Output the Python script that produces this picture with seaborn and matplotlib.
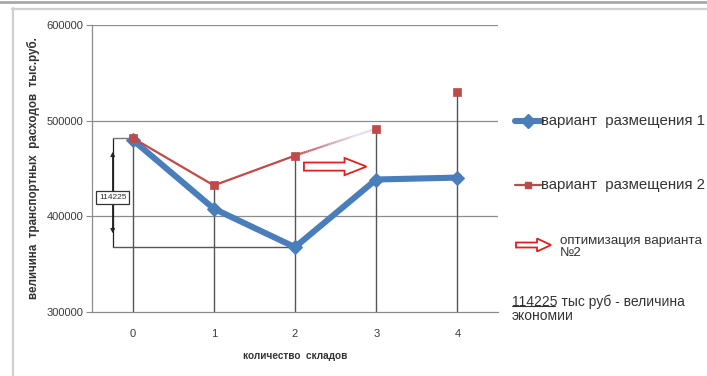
import numpy as np
import matplotlib
matplotlib.use("Agg")
import matplotlib.pyplot as plt
import matplotlib.patches as mpatches
from matplotlib.lines import Line2D
from matplotlib.collections import LineCollection
import seaborn as sns

# number of warehouses and transport costs (thousand rubles) for two placement variants
warehouses = [0, 1, 2, 3, 4]
variant1 = [480000, 408000, 367775, 438500, 440500]
variant2 = [482000, 432300, 463500, 491700, 530200]
y_ticks = [300000, 400000, 500000, 600000]
savings = variant2[0] - variant1[2]  # 114225

BLUE = "#4a7ebb"
RED = "#be4b48"
GRID = "#8c8c8c"

sns.set_theme(style="white")
plt.rcParams["font.family"] = ["Liberation Sans", "DejaVu Sans"]

fig = plt.figure(figsize=(7.07, 3.76), dpi=100)
fig.patch.set_facecolor("white")
ax = fig.add_axes([92 / 707, 1 - 312 / 376, (498 - 92) / 707, (312 - 25) / 376])
ax.set_facecolor("white")

ax.set_xlim(-0.5, 4.5)
ax.set_ylim(300000, 600000)

# horizontal grid
for yv in y_ticks[1:]:
    ax.axhline(yv, color=GRID, lw=0.9, zorder=0.5)

# drop lines from the highest point of each category to the axis
tops = np.maximum(variant1, variant2)
ax.vlines(warehouses, y_ticks[0], tops, color="#555555", lw=1.0, zorder=1)

# variant 1
sns.lineplot(x=warehouses, y=variant1, ax=ax, color=BLUE, lw=4.4, marker="D",
             markersize=7, markeredgecolor=BLUE, zorder=3)

# variant 2: solid up to 2 warehouses, fading segment to 3, lone point at 4
sns.lineplot(x=warehouses[:3], y=variant2[:3], ax=ax, color=RED, lw=1.6, zorder=4)
t = np.linspace(0, 1, 40)
gx = warehouses[2] + t * (warehouses[3] - warehouses[2])
gy = variant2[2] + t * (variant2[3] - variant2[2])
segs = np.stack([np.column_stack([gx[:-1], gy[:-1]]), np.column_stack([gx[1:], gy[1:]])], axis=1)
c0 = np.array(matplotlib.colors.to_rgb(RED))
c1 = np.array(matplotlib.colors.to_rgb("#e2deee"))
cols = [tuple(c0 + (c1 - c0) * min(1, v * 1.4)) for v in t[:-1]]
ax.add_collection(LineCollection(segs, colors=cols, lw=1.6, zorder=4))
sns.scatterplot(x=warehouses, y=variant2, ax=ax, marker="s", s=28, color=RED,
                edgecolor=RED, linewidth=0.5, zorder=5)

# savings dimension line
dim_x = -0.245
ax.annotate("", xy=(dim_x, variant1[2]), xytext=(dim_x, variant2[0]),
            arrowprops=dict(arrowstyle="<|-|>", color="#222222", lw=0.9,
                            mutation_scale=6, fill=False, shrinkA=10, shrinkB=10),
            zorder=2)
ax.plot([dim_x, dim_x], [variant2[0], variant1[2]], color="#222222", lw=0.9, zorder=2)
ax.plot([dim_x, -0.07], [variant2[0], variant2[0]], color="#777777", lw=1.0, zorder=2)
ax.plot([dim_x, warehouses[2] - 0.07], [variant1[2], variant1[2]], color="#555555", lw=1.0, zorder=2)
ax.text(dim_x, (variant2[0] + variant1[2]) / 2 - 5000, f"{savings}", ha="center", va="center",
        fontsize=6, color="#333333", zorder=6,
        bbox=dict(boxstyle="square,pad=0.35", fc="white", ec="#333333", lw=0.9))

# optimisation arrow (hollow)
arr = mpatches.FancyArrow(2.11, 452000, 0.5, 0, width=8500, head_width=18000,
                          head_length=0.27, length_includes_head=False,
                          fc="white", ec="#e02020", lw=1.3, zorder=6)
ax.add_patch(arr)

# axes styling
ax.set_xticks(warehouses)
ax.set_xticklabels([str(w) for w in warehouses])
ax.set_yticks(y_ticks)
ax.set_yticklabels([str(v) for v in y_ticks])
ax.tick_params(axis="y", length=4, width=0.8, color=GRID, labelsize=8,
               labelcolor="#3a3a3a", pad=2, left=True)
ax.tick_params(axis="x", length=0, labelsize=8, labelcolor="#3a3a3a", pad=12)
for side in ("top", "right"):
    ax.spines[side].set_visible(False)
ax.spines["left"].set_color(GRID)
ax.spines["left"].set_linewidth(0.9)
ax.spines["bottom"].set_color(GRID)
ax.spines["bottom"].set_linewidth(0.9)
ax.set_xlabel("количество  складов", fontsize=7.2, fontweight="bold", color="#333333", labelpad=9)
ax.set_ylabel("величина  транспортных  расходов  тыс.руб.", fontsize=8.4, fontweight="bold",
              color="#333333", labelpad=5)

# overlay in pixel coordinates for frame and legend
ov = fig.add_axes([0, 0, 1, 1], facecolor="none")
ov.set_xlim(0, 707)
ov.set_ylim(376, 0)
ov.axis("off")
ov.plot([0, 707], [1.5, 1.5], color="#a8a8a8", lw=2.0)
ov.plot([12, 707], [8.5, 8.5], color="#cfcfcf", lw=1.6)
ov.plot([12.5, 12.5], [8, 376], color="#cfcfcf", lw=1.6)

ov.add_line(Line2D([515, 528, 541], [121, 121, 121], color=BLUE, lw=4.4, marker="D",
                   markersize=7, markevery=[1], markeredgecolor=BLUE))
ov.text(541, 121, "вариант  размещения 1", fontsize=10.8, color="#333333", va="center", ha="left")

ov.add_line(Line2D([515, 528, 541], [185, 185, 185], color=RED, lw=1.6, marker="s",
                   markersize=5, markevery=[1], markeredgecolor=RED))
ov.text(541, 185, "вариант  размещения 2", fontsize=10.8, color="#333333", va="center", ha="left")

ov.add_patch(mpatches.FancyArrow(516, 245, 21, 0, width=5, head_width=13, head_length=14,
                                 fc="white", ec="#e02020", lw=1.3))
ov.text(560, 247, "оптимизация варианта\n№2", fontsize=9.6, color="#333333",
        va="center", ha="left", linespacing=1.0)

ov.text(512, 309, "114225 тыс руб - величина\nэкономии", fontsize=10, color="#333333",
        va="center", ha="left", linespacing=1.05)
ov.plot([512, 555], [306, 306], color="#333333", lw=0.8)

fig.savefig("out.png", dpi=100, facecolor="white")
